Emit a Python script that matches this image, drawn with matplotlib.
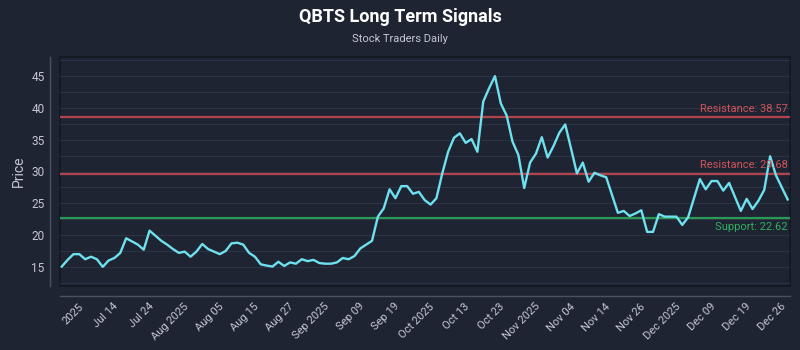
import numpy as np
import matplotlib.pyplot as plt
from matplotlib.ticker import MultipleLocator

# prix de cloture journaliers
prix = [15.05, 16.1, 17.0, 17.0, 16.2, 16.6, 16.2, 15.0, 16.0, 16.4, 17.2, 19.5,
        19.0, 18.5, 17.7, 20.7, 19.9, 19.1, 18.5, 17.8, 17.2, 17.4, 16.6,
        17.4, 18.6, 17.8, 17.4, 17.0, 17.5, 18.7, 18.8, 18.5, 17.2, 16.6, 15.4,
        15.2, 15.05, 15.8, 15.15, 15.7, 15.5, 16.2, 15.9, 16.1, 15.6, 15.5,
        15.5, 15.7, 16.4, 16.2, 16.7, 17.9, 18.5, 19.1, 22.9, 24.2, 27.2, 25.8,
        27.7, 27.7, 26.5, 26.8, 25.5, 24.8, 25.8, 29.7, 33.1, 35.3, 36.0, 34.5,
        35.1, 33.1, 41.0, 43.1, 45.0, 40.7, 38.8, 34.7, 32.6, 27.4, 31.4,
        32.8, 35.4, 32.2, 34.0, 36.1, 37.4, 33.6, 29.7, 31.4, 28.4, 29.8, 29.4,
        29.1, 26.3, 23.5, 23.8, 23.0, 23.4, 23.9, 20.5, 20.5, 23.3, 22.9, 22.9,
        22.9, 21.6, 22.8, 25.8, 28.8, 27.2, 28.5, 28.5, 27.0, 28.2, 26.0, 23.8,
        25.7, 24.1, 25.4, 27.1, 32.4, 29.4, 27.5, 25.6]

etiquettes = ["2025", "Jul 14", "Jul 24", "Aug 2025", "Aug 05", "Aug 15", "Aug 27",
              "Sep 2025", "Sep 09", "Sep 19", "Oct 2025", "Oct 13", "Oct 23",
              "Nov 2025", "Nov 04", "Nov 14", "Nov 26", "Dec 2025", "Dec 09",
              "Dec 19", "Dec 26"]

resistances = [38.57, 29.68]
support = 22.62

fond = '#1e2432'
couleur_txt = '#c3c8d2'

plt.rcParams['font.family'] = ['Roboto', 'DejaVu Sans']

fig = plt.figure(figsize=(8, 3.5), dpi=100, facecolor=fond)
ax = fig.add_axes([0.075, 0.183, 0.9125, 0.654])
ax.set_facecolor(fond)

# axes decales (avant les ticks : set_position remet les ticks a zero)
for s in ['top', 'right']:
    ax.spines[s].set_visible(False)
for s in ['left', 'bottom']:
    ax.spines[s].set_position(('outward', 7))
    ax.spines[s].set_color('#4a5262')
    ax.spines[s].set_linewidth(1)
# cadre sombre
ax.patch.set_edgecolor('#131822')
ax.patch.set_linewidth(1.2)

x = np.arange(len(prix))
ax.plot(x, prix, color='#6fe0ee', lw=1.7, zorder=3)

# niveaux
for r in resistances:
    ax.axhline(r, color='#c2474f', lw=1.6, alpha=0.9, zorder=2)
    ax.text(x[-1], r + 0.5, f"Resistance: {r:.2f}", color='#d0545a',
            fontsize=8, ha='right', va='bottom', zorder=4)
ax.axhline(support, color='#2ea65a', lw=1.6, alpha=0.9, zorder=2)
ax.text(x[-1], support - 0.6, f"Support: {support:.2f}", color='#31b061',
        fontsize=8, ha='right', va='top', zorder=4)

ax.set_xlim(-0.3, len(prix) - 0.6)
ax.set_ylim(12, 48)
ax.yaxis.set_major_locator(MultipleLocator(5))
ax.yaxis.set_minor_locator(MultipleLocator(2.5))

ax.grid(axis='y', which='both', color='#2b3344', lw=0.8, zorder=0)
ax.tick_params(axis='both', which='both', length=0, colors=couleur_txt,
               labelsize=8.5, pad=4)

ax.set_xticks(x[4::6])
ax.set_xticklabels(etiquettes, rotation=45, ha='right', fontsize=8)

ax.set_ylabel("Price", color=couleur_txt, fontsize=10, labelpad=4)

fig.text(0.5, 0.952, "QBTS Long Term Signals", color='white', fontsize=13,
         fontweight='bold', ha='center', va='center')
fig.text(0.5, 0.89, "Stock Traders Daily", color=couleur_txt, fontsize=8,
         ha='center', va='center')

plt.savefig('out.png', dpi=100, facecolor=fond)
